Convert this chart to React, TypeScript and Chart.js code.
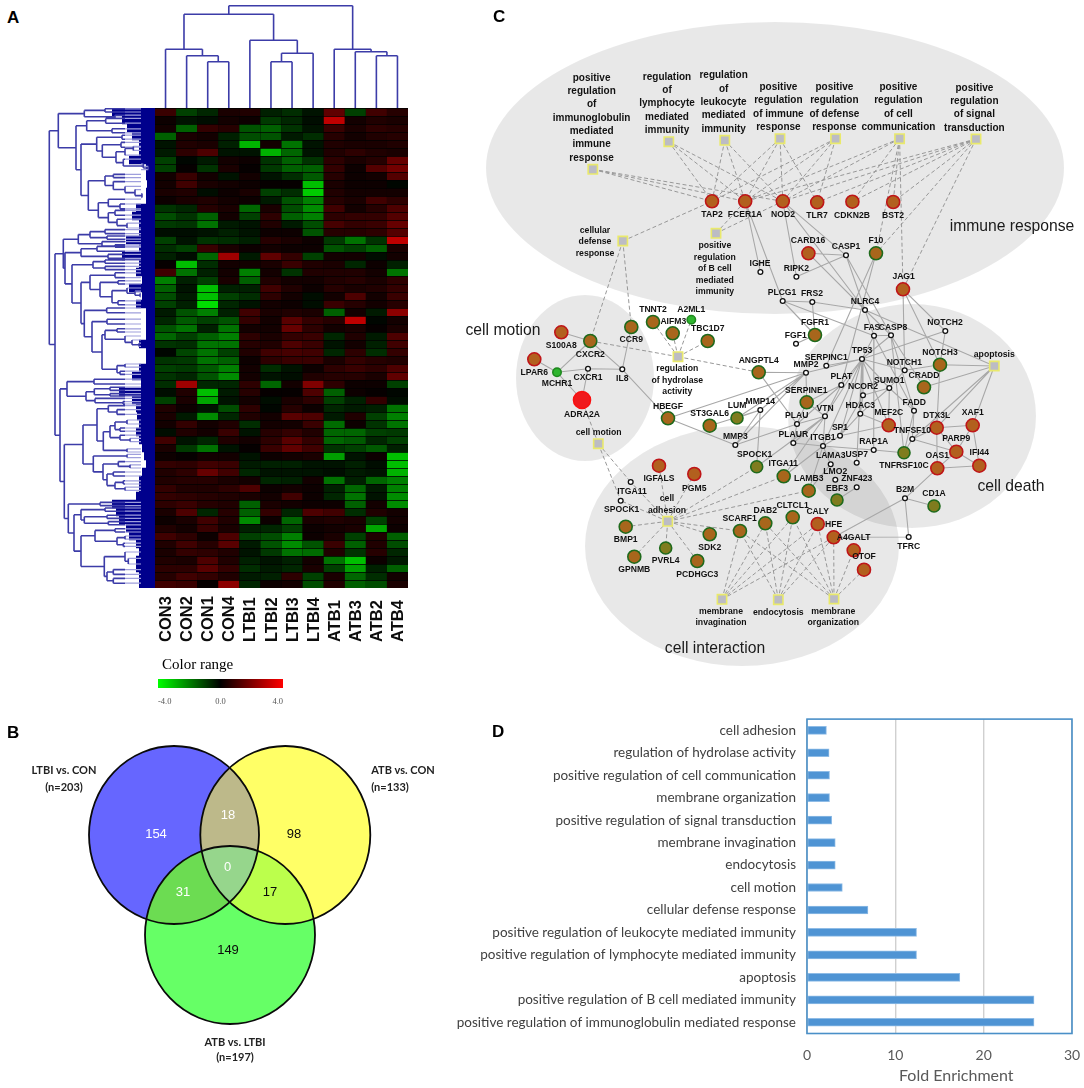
import React, { useEffect, useRef } from "react";
import { Chart, registerables } from "chart.js";

Chart.register(...registerables);

/* ---------- Panel A ---------- */
const samples = ["CON3", "CON2", "CON1", "CON4", "LTBI1", "LTBI2", "LTBI3", "LTBI4", "ATB1", "ATB3", "ATB2", "ATB4"];
const heatRows = [
  [.9, -1, -.6, .4, .5, -.5, -.7, -.3, 1.5, -1, 1, .6],
  [.2, -.3, -.2, .3, .2, -.9, -.6, -.2, 3, .3, .5, .4],
  [.3, -1.5, .8, .6, -1.3, -1.5, -.8, -.3, .9, .4, .7, .6],
  [-1.5, .4, .3, -.5, -1.2, -1.3, -.4, -.7, .6, .3, .5, .6],
  [-.3, .5, .4, -.5, -2.8, .3, -1.8, -.3, .5, .4, .4, .5],
  [-.4, .7, 1.2, -.3, -.3, -2.8, -1.6, -.3, .5, .7, .5, .4],
  [-1, -.1, -.4, .3, .2, -.8, -1.5, -.8, .7, .4, .6, 1.6],
  [-1, .1, -.8, .4, .1, -.9, -1.5, -1.5, .8, .2, 1.3, 1.8],
  [.3, .9, .3, -.3, .3, -.3, -.7, -1.4, .6, .2, .3, 1.3],
  [.3, 1, .4, .3, .2, .1, .1, -3, .4, .2, .2, -.1],
  [.4, .5, -.2, .2, .4, -1, -.7, -3.2, .5, .3, .3, .3],
  [.2, .4, .5, .3, .2, -.4, -1.3, -2, .6, .4, 1, .7],
  [-.8, -.6, .6, .4, -1.6, .4, -1.2, -2.2, 1, .3, .6, 1.2],
  [-1.2, -.8, -1.5, .3, -1, .7, -1.5, -2, .7, .8, .8, 1.3],
  [-.9, -.8, -1.8, -.4, -.3, .5, -.4, -1.2, 1.1, .8, .9, 1.6],
  [-.2, -.2, -.3, -.5, -.3, .2, .2, -1.3, .6, .6, .7, 1.3],
  [-1, -.3, -.8, -.7, -.5, .6, .4, .2, -.9, -1.8, -.8, 3],
  [-.7, -1, .9, .4, .2, .3, .2, .2, -1.3, -1, -1.5, .4],
  [-.5, -.2, -1.6, 2.5, -.4, 1.5, .8, -1, .3, .3, -.2, .3],
  [.1, -3, -.7, .3, .3, .4, .9, .5, .4, -.6, .2, -.5],
  [1, -1.8, -.5, .3, -2, .3, -.8, .5, .5, .5, .3, -1.8],
  [-2, -.5, -1, .4, -1.5, .5, .3, .3, .5, .6, .4, .7],
  [-1.5, -.3, -3, -.5, -.5, 1, .5, .2, .6, .4, .5, .8],
  [-1.2, -.4, -3, -1, -.7, .7, .3, -.2, .3, 1.2, .3, .9],
  [-1, -.5, -3.5, -.6, -.3, .3, .2, -.2, .9, .6, .3, .6],
  [-.4, -1.3, -2, -.5, 1, .4, .5, .4, -1.5, .3, -.4, 2.2],
  [-.6, -1.4, -1, -1.3, .8, .3, 1.4, .8, .6, 3, -.1, .3],
  [-1.3, -1.8, -.5, -1.8, .3, .3, 1.6, .7, .3, .4, .1, .4],
  [-1.6, -1, -1.5, -2, .7, .4, .8, .9, -.6, .5, -.4, 1.2],
  [-.8, -.7, -1.8, -1.8, .6, .5, 1.2, .9, -.3, .3, -.5, 1],
  [-.1, -1.1, -1.8, -1, .5, 1, 1.1, 1, -.6, .7, -.7, .8],
  [-.8, -.9, -1.8, -1.5, .2, .7, .9, .9, .4, .8, .6, .5],
  [-1, -.9, -1.4, -2, .3, -.7, -.3, .2, .7, .9, .7, 1.2],
  [-.8, -.6, -1.3, -2.2, .3, -.3, -.2, .5, .6, .6, .4, 1.5],
  [-.7, 2.5, -.6, -.6, .7, -1.6, .3, 2, .7, .2, .2, -1],
  [-.2, .5, -3, -.4, .6, .1, .1, 1.2, -1.5, .2, .1, -.1],
  [-1, .4, -2.6, -.3, .3, -.2, .4, .7, -1, -.5, .8, -.2],
  [.5, .2, -.3, -1.2, .7, -.1, .6, .2, -.6, -.4, -.5, -1.8],
  [.4, -.4, -2.2, -.6, .5, .3, 1.4, 1.2, -.4, .5, -1, -2],
  [.3, .8, .3, .5, -.7, .3, .3, .9, -1.7, .2, -.8, -1.8],
  [-.2, .5, .3, .9, -.3, .6, .8, .5, -1.6, -1.6, -1, -.9],
  [1, -.3, -.6, .5, .3, .7, 1.4, .8, -1.6, -1.4, -.6, -1],
  [.4, -.9, -1.8, -.3, .1, .9, 1.5, 1, -.8, -1, -1.4, -.5],
  [.2, .1, .3, .3, -.3, .2, .3, .4, -2.5, -.3, .2, -3],
  [.8, .7, 1, .9, -.4, -.5, -.5, -.3, -.3, -.5, -.2, -3],
  [.5, .7, 1.6, 1, -.6, -.3, -.3, -.3, -.2, -.4, -.3, -2.8],
  [.5, .6, .6, .4, .3, -.6, -.5, .3, -1.8, -.5, -1.6, -2],
  [.8, .5, .5, .7, 1.2, .2, .3, .2, -.5, -1.6, -.4, -2],
  [.8, .7, .6, .5, .4, .3, 1, .2, -.6, -1.8, -.3, -2.2],
  [.7, .9, .6, .5, -1.5, .4, .3, .2, .2, -1.5, .3, -2.2],
  [.4, 1.2, -.6, .6, -1.5, .8, -.6, 1.2, 1, -.7, .5, .3],
  [.2, .4, 1, .5, -2.2, .2, -1.6, .4, .5, .4, -1, .3],
  [.5, .3, .9, .4, -.5, -.6, -1, .2, .3, .4, -2.6, .2],
  [1, .7, .2, 1.2, -1, -1.2, -2, .2, .4, -1, .5, -1.5],
  [.5, 1, .6, 1.4, -.4, -1.3, -2.2, -1.3, .9, -1.5, .5, -1.2],
  [.4, .8, .7, .5, -.3, -.9, -1.8, -1.7, .5, -.8, .6, -.6],
  [.5, .4, 1.2, .5, -.5, -.3, -.5, .3, -1.8, -3, .2, -.4],
  [.7, .7, 1.4, .8, -.7, -.4, -.6, .4, -1, -2.5, -.5, -1.5],
  [.6, 1, .8, .5, -.4, -.5, .7, -1, .4, -1.6, -.7, .3],
  [1, .9, .1, 2.2, -.6, .2, .3, -1.2, .5, -1.5, -1.2, .4],
];
const topTree: any = [102.3, [93.7, [58.7, 0, [52.3, 1, [46.3, 2, 3]]], [67.7, 4, [54.7, [46.3, 5, 6], 7]]], [58.7, 8, [56.3, 9, [52.3, 10, 11]]]];
const brP: any = [58.3, [33, 3.4, 3.9], [52.7, [34, 4.3, 4.9], [39, [30, [21.7, 4.8, 5.3], 5.9], [31.7, 6.4, [11.7, 7, [6.7, 7.3, 7.7]]]]]];
const brS: any = [66.7, [50, [41.7, 8.3, 8.7], [41.7, 9.2, [30, 9.8, [20, 10.2, [13, 10.7, 11.2]]]]], [56.7, [46.7, 11.4, [35, 12, 12.6]], [46.7, [40, 12.8, 13.4], [38, 13.9, [28, 14.4, 15]]]]];
const brA: any = [96.7, [70.7, [50, .1, .5], [40, .9, 1.3]], [79, [68.3, [49.3, 1.3, 1.9], [43, 2.6, 3.1]], [74, brP, brS]]];
const brJ: any = [53, [50, [38, 27.6, 28], [30, 28.5, [23, 29, [16, 29.4, 29.8]]]], [38, [30, 32, 32.4], [35, 32.9, 33.3]]];
const brH: any = [70.7, [48.3, 25, 25.6], [63, [48, 26.4, 27], brJ]];
const brE: any = [65, [40, 20.6, 21.2], [55, [37, 21.6, 22], [43, [28, 22.5, [20, 22.9, [15, 23.2, 23.6]]], [37, 24.1, 24.6]]]];
const brC2: any = [90, [74, [58, 17.3, 17.9], [47, 18.3, 18.8]], [83, [62, [50, 19, 19.4], [50, 19.8, 20.2]], [74, brE, brH]]];
const brC1: any = [76.7, [65, [50, 15.2, 15.7], [48, 16, 16.4]], [53, 16.7, [40, 17.1, 17.4]]];
const brK: any = [88, [61, 33.9, 34.5], [69, [60.7, [45, 34.9, 35.3], [45, 35.7, 36]], [60, 36.3, [32, 36.7, 37]]]];
const brM: any = [58, [46.7, 37.2, [38, 37.7, 38.3]], [51.7, [45, [40, [28, 39, 39.5], [35, 40, 40.4]], [35, 40.9, [25, 41.3, 41.7]]], [28, 42.6, 43]]];
const brN: any = [61.7, [28, 43.3, 43.7], [52, [36.7, 44.2, [25, 44.6, 45]], [48, [41.7, 45.5, 46], [40, [31.7, 46.6, 47], [30, 47.4, 47.8]]]]];
const brL2: any = [86.7, [55, 49.3, 49.7], [81, [74, [50, 50, 50.4], [70.7, [48, 50.9, 51.3], [46.7, 51.7, 52.1]]], [74, [60, [40, 52.6, 53], [38, [30, 53.5, 53.9], [31.7, 54.4, 54.8]]], [50.7, [30, 55.5, [26.7, 56.3, 57]], [48, [41.7, 57.7, 58.3], [41.7, 58.8, 59.4]]]]]];
const leftTree: any = [105.7, brA, [100, [91.7, brC1, brC2], [95, brK, [90.7, [72, brM, brN], brL2]]]];
const navyDist = [43, 33, 28, 23, 16, 16, 26, 9, 9, 8, 9, 9, 19, 23, 16, 16, 29, 16, 33, 16, 19, 13, 26, 13, 19, 9, 9, 9, 9, 16, 9, 9, 16, 23, 14, 36, 23, 19, 18, 16, 19, 16, 13, 11, 9, 13, 16, 16, 19, 43, 39, 36, 29, 26, 19, 16, 19, 19, 16, 16];
const legendTicks = [-4, 0, 4];

/* ---------- Panel B ---------- */
const vennCentres = [[174, 835], [285.3, 835], [230, 935]];
const vennRadii = [85, 89];
const vennTexts: any[] = [
  ["LTBI vs. CON", 64, 770, 0], ["(n=203)", 64, 787, 0], ["ATB vs. CON", 403, 770, 0], ["(n=133)", 390, 787, 0],
  ["ATB vs. LTBI", 235, 1042, 0], ["(n=197)", 235, 1057, 0],
  ["154", 156, 834, 1], ["18", 228, 815, 1], ["98", 294, 834, 2], ["0", 227.7, 867.7, 1], ["31", 183, 892, 1], ["17", 270, 892, 2], ["149", 228, 950, 2],
];

/* ---------- Panel C ---------- */
const regions = [[775, 168, 289, 146], [585, 378, 69, 83], [912, 416, 124, 112], [742, 546, 157, 120]];
const regionTexts: any[] = [["immune response", 1012, 227], ["cell motion", 503, 331], ["cell death", 1011, 487], ["cell interaction", 715, 649]];
// id, x, y, kind, label x, label y, unique key
const genes: any[] = [
  ["TAP2", 712, 201.3, "r", 712, 215], ["FCER1A", 745.2, 201.3, "r", 745, 215], ["NOD2", 782.8, 201.3, "r", 783, 215],
  ["TLR7", 817.2, 202.3, "r", 817, 216], ["CDKN2B", 852.4, 201.7, "r", 852, 215.5], ["BST2", 893.2, 202, "r", 893, 216],
  ["CARD16", 808.4, 253.3, "r", 808, 240.7], ["F10", 876, 253.3, "g", 876, 241], ["JAG1", 903, 289.3, "r", 903.6, 276.7],
  ["CASP1", 846, 255.3, "s", 846, 247], ["IGHE", 760.4, 272, "s", 760, 263.7], ["RIPK2", 796.4, 276.7, "s", 796.4, 268.3],
  ["CCR9", 631.3, 327, "g", 631.3, 340], ["TNNT2", 653, 322, "g", 653, 310], ["AIFM3", 672.7, 333.3, "g", 673.3, 321.3],
  ["A2ML1", 691.3, 319.7, "G", 691.3, 309.3], ["TBC1D7", 707.7, 341, "g", 707.7, 329], ["S100A8", 561.3, 332.3, "r", 561.3, 345.7],
  ["CXCR2", 590.3, 341, "g", 590.3, 354.7], ["LPAR6", 534.3, 359.3, "r", 534.3, 372.7], ["MCHR1", 557, 372.3, "G", 557, 384],
  ["CXCR1", 588, 368.7, "s", 588, 377.7], ["IL8", 622.3, 369.3, "s", 622.3, 378.3], ["ADRA2A", 582, 400, "R", 582, 415],
  ["ANGPTL4", 758.7, 372.3, "g", 758.7, 360.3], ["HBEGF", 668, 418.3, "g", 668, 406.3], ["ST3GAL6", 709.7, 425.7, "g", 709.7, 413.7],
  ["LUM", 737, 418, "o", 737, 406], ["MMP14", 760.3, 410, "s", 760.3, 401.7], ["MMP3", 735.3, 445, "s", 735.3, 437],
  ["SPOCK1", 756.7, 466.7, "o", 754.7, 454.7], ["IGFALS", 659, 465.7, "r", 659, 479], ["PGM5", 694.3, 474, "r", 694.3, 488.3],
  ["ITGA11", 630.7, 482, "s", 632, 491.3, "ITGA11s"], ["SPOCK1", 620.7, 500.7, "s", 621.7, 509.7, "SPOCK1s"],
  ["PLCG1", 782.7, 301, "s", 782, 292.7], ["FRS2", 812.3, 302, "s", 812, 293.7], ["NLRC4", 865, 310, "s", 865, 301.7],
  ["FGFR1", 815, 335, "g", 815, 322.7], ["FGF1", 796, 343.7, "s", 795.7, 335.7], ["FAS", 874, 335.7, "s", 872, 327.7],
  ["CASP8", 891, 335.3, "s", 893, 327.7], ["NOTCH2", 945.3, 331, "s", 945, 322.7], ["NOTCH3", 940, 364.7, "g", 940, 352.3],
  ["TP53", 862, 359, "s", 862, 351], ["SERPINC1", 826.3, 365.7, "s", 826.3, 357.3], ["MMP2", 806, 372.7, "s", 806, 364.7],
  ["NOTCH1", 904.7, 370.3, "s", 904.3, 362.3], ["CRADD", 924, 387.3, "g", 924, 375.3], ["PLAT", 841.3, 385, "s", 841.3, 377],
  ["SUMO1", 889.3, 388, "s", 889.3, 380.3], ["NCOR2", 863, 395.3, "s", 863, 386.7], ["SERPINE1", 806.7, 402.3, "g", 806.3, 390.3],
  ["FADD", 914, 410.7, "s", 914.3, 402.7], ["HDAC3", 860.3, 413.7, "s", 860.3, 405.7], ["VTN", 825, 416.3, "s", 825, 408.3],
  ["PLAU", 797, 424, "s", 796.7, 416], ["MEF2C", 888.7, 425.3, "r", 888.7, 412.7], ["DTX3L", 936.7, 427.7, "r", 936.7, 415.3],
  ["XAF1", 972.7, 425.3, "r", 972.7, 412.7], ["SP1", 840, 435.7, "s", 840, 427.3], ["TNFSF10", 912.3, 439, "s", 912.3, 430.3],
  ["PLAUR", 793.3, 443, "s", 793.3, 435], ["ITGB1", 823, 446, "s", 823, 438], ["RAP1A", 873.7, 450, "s", 873.7, 441.3],
  ["PARP9", 956.3, 451.7, "r", 956.3, 439], ["TNFRSF10C", 904, 452.7, "o", 904, 465.7], ["USP7", 856.7, 462.7, "s", 856.7, 454.3],
  ["LAMA3", 830.7, 464.3, "s", 830.7, 456], ["OAS1", 937.3, 468.3, "r", 937.3, 455.3], ["IFI44", 979.3, 465.7, "r", 979.3, 452.7],
  ["ITGA11", 783.7, 476.3, "g", 783.3, 464], ["LMO2", 835.3, 479.7, "s", 835.3, 471.3], ["ZNF423", 856.7, 487.3, "s", 856.7, 479],
  ["LAMB3", 808.7, 490.7, "g", 808.7, 478.7], ["EBF3", 837, 500, "o", 837, 489], ["B2M", 905, 498.3, "s", 905, 490],
  ["CD1A", 934, 506, "o", 934, 493.7], ["BMP1", 625.7, 526.7, "g", 625.7, 540], ["PVRL4", 665.7, 548, "o", 665.7, 560.7],
  ["GPNMB", 634.3, 556.7, "g", 634.3, 570], ["SDK2", 709.7, 534.3, "g", 709.7, 547.3], ["PCDHGC3", 697.3, 561, "g", 697.3, 574.3],
  ["SCARF1", 740, 531, "g", 739.7, 518.7], ["DAB2", 765.3, 523.3, "g", 765.3, 511], ["CLTCL1", 792.7, 517.3, "g", 792.7, 505.3],
  ["CALY", 817.7, 524, "r", 817.7, 511.3], ["HFE", 833.7, 537.3, "r", 833.7, 524.7], ["A4GALT", 853.7, 550.3, "r", 853.7, 537.7],
  ["OTOF", 864, 569.7, "r", 864, 557], ["TFRC", 908.7, 537, "s", 908.7, 546.3],
];
// id, x, y, lines, label x, first line y, line step, large font?
const terms: any[] = [
  ["immuno", 592.8, 169.3, ["positive", "regulation", "of", "immunoglobulin", "mediated", "immune", "response"], 591.6, 78, 13.3, 1],
  ["lympho", 668.8, 141.7, ["regulation", "of", "lymphocyte", "mediated", "immunity"], 667, 77, 13.3, 1],
  ["leuko", 724.8, 140.3, ["regulation", "of", "leukocyte", "mediated", "immunity"], 723.6, 75.7, 13.3, 1],
  ["immune", 780, 138.7, ["positive", "regulation", "of immune", "response"], 778.4, 87.3, 13.3, 1],
  ["defense", 835.6, 138.7, ["positive", "regulation", "of defense", "response"], 834.4, 87.3, 13.3, 1],
  ["comm", 899.6, 138.7, ["positive", "regulation", "of cell", "communication"], 898.4, 87.3, 13.3, 1],
  ["signal", 976, 139, ["positive", "regulation", "of signal", "transduction"], 974.4, 88, 13.3, 1],
  ["cellular", 622.8, 241, ["cellular", "defense", "response"], 595, 230.3, 11.7, 0],
  ["bcell", 716, 233.3, ["positive", "regulation", "of B cell", "mediated", "immunity"], 714.8, 245.7, 11.6, 0],
  ["hydro", 678, 356.7, ["regulation", "of hydrolase", "activity"], 677.3, 369, 11.5, 0],
  ["motion", 598.3, 443.7, ["cell motion"], 598.7, 432.3, 0, 0],
  ["apoptosis", 994.3, 366, ["apoptosis"], 994.3, 355, 0, 0],
  ["adhesion", 667.7, 521.3, ["cell", "adhesion"], 667, 499, 11.7, 0],
  ["invag", 722, 599.3, ["membrane", "invagination"], 721, 611.7, 11.4, 0],
  ["endo", 778.3, 599.7, ["endocytosis"], 778.3, 612.3, 0, 0],
  ["org", 834, 599, ["membrane", "organization"], 833.3, 611.3, 11.4, 0],
];
const dashedEdges: string[][] = [
  ["immuno", "TAP2"], ["immuno", "FCER1A"], ["immuno", "NOD2"], ["lympho", "TAP2"], ["lympho", "FCER1A"], ["lympho", "NOD2"],
  ["leuko", "TAP2"], ["leuko", "FCER1A"], ["leuko", "NOD2"], ["immune", "TAP2"], ["immune", "FCER1A"], ["immune", "NOD2"], ["immune", "TLR7"],
  ["defense", "FCER1A"], ["defense", "NOD2"], ["defense", "TLR7"], ["defense", "TAP2"], ["comm", "FCER1A"], ["comm", "NOD2"], ["comm", "CDKN2B"],
  ["comm", "BST2"], ["comm", "JAG1"], ["comm", "F10"], ["signal", "FCER1A"], ["signal", "NOD2"], ["signal", "CDKN2B"], ["signal", "BST2"],
  ["signal", "JAG1"], ["signal", "F10"], ["signal", "TLR7"], ["cellular", "TAP2"], ["cellular", "CXCR2"], ["cellular", "CCR9"], ["bcell", "NOD2"], ["bcell", "FCER1A"],
  ["hydro", "TNNT2"], ["hydro", "AIFM3"], ["hydro", "A2ML1"], ["hydro", "TBC1D7"], ["hydro", "CXCR2"], ["hydro", "ANGPTL4"],
  ["motion", "ADRA2A"], ["motion", "ITGA11s"], ["motion", "SPOCK1s"],
  ["adhesion", "ITGA11s"], ["adhesion", "SPOCK1s"], ["adhesion", "IGFALS"], ["adhesion", "PGM5"], ["adhesion", "SPOCK1"], ["adhesion", "ITGA11"],
  ["adhesion", "LAMB3"], ["adhesion", "BMP1"], ["adhesion", "GPNMB"], ["adhesion", "PVRL4"], ["adhesion", "PCDHGC3"], ["adhesion", "SDK2"], ["adhesion", "SCARF1"],
  ["invag", "SCARF1"], ["invag", "DAB2"], ["invag", "CLTCL1"], ["invag", "CALY"], ["invag", "HFE"],
  ["endo", "SCARF1"], ["endo", "DAB2"], ["endo", "CLTCL1"], ["endo", "CALY"], ["endo", "HFE"],
  ["org", "SCARF1"], ["org", "DAB2"], ["org", "CLTCL1"], ["org", "CALY"], ["org", "HFE"], ["org", "A4GALT"], ["org", "OTOF"],
];
const solidEdges: string[][] = [
  ["FCER1A", "IGHE"], ["FCER1A", "PLCG1"], ["NOD2", "RIPK2"], ["NOD2", "CASP1"], ["NOD2", "NLRC4"], ["RIPK2", "CASP1"], ["CARD16", "CASP1"], ["CARD16", "NLRC4"],
  ["CASP1", "NLRC4"], ["CASP1", "CASP8"], ["F10", "SERPINC1"], ["F10", "PLAT"], ["PLCG1", "FRS2"], ["PLCG1", "FGFR1"], ["FRS2", "FGFR1"], ["FGFR1", "FGF1"], ["PLCG1", "FAS"],
  ["FRS2", "NLRC4"], ["NLRC4", "CASP8"], ["NLRC4", "FAS"], ["NLRC4", "apoptosis"], ["JAG1", "NOTCH1"], ["JAG1", "NOTCH2"], ["JAG1", "NOTCH3"], ["NOTCH2", "NOTCH3"], ["TP53", "NOTCH2"],
  ["FAS", "CASP8"], ["FAS", "TP53"], ["FAS", "FADD"], ["FAS", "RAP1A"], ["CASP8", "FADD"], ["CASP8", "CRADD"], ["CASP8", "TNFRSF10C"], ["CASP8", "TP53"], ["NOTCH1", "NOTCH3"], ["NOTCH1", "TP53"], ["NOTCH1", "SUMO1"],
  ["NOTCH3", "apoptosis"], ["CRADD", "apoptosis"], ["DTX3L", "apoptosis"], ["XAF1", "apoptosis"], ["TNFSF10", "apoptosis"], ["NOTCH3", "DTX3L"],
  ["TP53", "SERPINC1"], ["TP53", "MMP2"], ["TP53", "PLAT"], ["TP53", "NCOR2"], ["TP53", "SUMO1"], ["TP53", "MEF2C"], ["TP53", "HDAC3"], ["TP53", "SP1"], ["TP53", "VTN"], ["TP53", "USP7"], ["TP53", "ITGB1"],
  ["SUMO1", "NCOR2"], ["SUMO1", "HDAC3"], ["SUMO1", "FADD"], ["MEF2C", "HDAC3"], ["MEF2C", "SP1"], ["MEF2C", "SUMO1"], ["NCOR2", "HDAC3"], ["NCOR2", "SP1"], ["HDAC3", "SP1"],
  ["PLAT", "VTN"], ["PLAT", "PLAU"], ["PLAT", "SERPINE1"], ["SERPINE1", "VTN"], ["SERPINE1", "PLAU"], ["SERPINE1", "MMP2"], ["PLAU", "PLAUR"], ["PLAU", "VTN"], ["VTN", "ITGB1"], ["VTN", "PLAUR"],
  ["ITGB1", "PLAUR"], ["ITGB1", "SP1"], ["ITGB1", "RAP1A"], ["RAP1A", "TNFRSF10C"], ["ITGB1", "LAMA3"], ["ITGA11", "ITGB1"], ["LAMB3", "ITGB1"], ["LAMB3", "LAMA3"], ["EBF3", "ZNF423"], ["ITGA11", "VTN"], ["SPOCK1", "VTN"],
  ["TNFSF10", "DTX3L"], ["TNFSF10", "TNFRSF10C"], ["TNFSF10", "PARP9"], ["TNFSF10", "FADD"], ["FADD", "TNFRSF10C"], ["DTX3L", "XAF1"], ["DTX3L", "PARP9"], ["DTX3L", "OAS1"], ["XAF1", "PARP9"], ["XAF1", "IFI44"], ["PARP9", "IFI44"], ["PARP9", "OAS1"], ["OAS1", "IFI44"], ["OAS1", "B2M"],
  ["B2M", "CD1A"], ["B2M", "TFRC"], ["B2M", "HFE"], ["HFE", "TFRC"], ["HBEGF", "MMP2"], ["HBEGF", "MMP3"], ["HBEGF", "IL8"], ["ST3GAL6", "MMP14"], ["LUM", "MMP14"], ["LUM", "MMP2"], ["MMP14", "MMP3"], ["MMP14", "SPOCK1"], ["MMP14", "MMP2"], ["MMP3", "MMP2"], ["MMP3", "PLAU"], ["ANGPTL4", "PLAU"], ["ANGPTL4", "MMP2"],
  ["IL8", "CXCR1"], ["IL8", "CXCR2"], ["IL8", "CCR9"], ["CXCR1", "MCHR1"], ["CXCR1", "ADRA2A"], ["MCHR1", "LPAR6"], ["MCHR1", "CXCR2"], ["MCHR1", "ADRA2A"], ["S100A8", "CXCR2"],
];
const kindFill: any = { r: "#b2601e", g: "#a8661c", o: "#7f7c1e", G: "#2fb52f", R: "#f0191c", s: "#ffffff" };
const kindBorder: any = { r: "#bf1518", g: "#1f6a1c", o: "#1f6a1c", G: "#1f8a1f", R: "#f81010", s: "#111111" };
const kindRadius: any = { r: 6.5, g: 6.5, o: 6, G: 4.2, R: 8.5, s: 2.4 };

/* ---------- Panel D ---------- */
const goTerms = ["cell adhesion", "regulation of hydrolase activity", "positive regulation of cell communication", "membrane organization", "positive regulation of signal transduction", "membrane invagination", "endocytosis", "cell motion", "cellular defense response", "positive regulation of leukocyte mediated immunity", "positive regulation of lymphocyte mediated immunity", "apoptosis", "positive regulation of B cell mediated immunity", "positive regulation of immunoglobulin mediated response"];
const foldEnrichment = [2.2, 2.5, 2.55, 2.55, 2.8, 3.2, 3.2, 4, 6.9, 12.4, 12.4, 17.3, 25.7, 25.7];

/* ---------- helpers ---------- */
const SANS = '"Liberation Sans", Arial, sans-serif';
const CAL = 'Lato, "Noto Sans", sans-serif';
const heatColor = (v: number) => {
  const k = Math.round(Math.min(Math.abs(v) / 4, 1) * 255);
  return v >= 0 ? `rgb(${k},0,0)` : `rgb(0,${k},0)`;
};
const gap = { x: NaN, y: NaN };
const seg = (out: any[], x1: number, y1: number, x2: number, y2: number) => out.push({ x: x1, y: y1 }, { x: x2, y: y2 }, gap);

function walkTree(node: any, horizontal: boolean, out: any[], leaves: any[], leafEnd: number): number {
  if (typeof node === "number") return node;
  const [h, a, b] = node;
  const pa = walkTree(a, horizontal, out, leaves, leafEnd);
  const pb = walkTree(b, horizontal, out, leaves, leafEnd);
  const put = (target: any[], h1: number, p1: number, h2: number, p2: number) =>
    horizontal ? seg(target, h1, p1, h2, p2) : seg(target, p1, h1, p2, h2);
  put(out, h, pa, h, pb);
  for (const [child, p] of [[a, pa], [b, pb]]) {
    if (typeof child === "number") {
      const knee = horizontal ? Math.min(h, 30) : 0;
      put(out, h, p, knee, p);
      if (horizontal) put(leaves, knee, p, leafEnd, p);
    } else put(out, h, p, child[0], p);
  }
  return (pa + pb) / 2;
}

const textPlugin = (id: string, items: any[]) => ({
  id,
  afterDraw(chart: any) {
    const { ctx, scales } = chart;
    ctx.save();
    ctx.textBaseline = "middle";
    for (const it of items) {
      ctx.font = it.font;
      ctx.fillStyle = it.color;
      ctx.textAlign = it.align || "center";
      ctx.fillText(it.t, scales.x.getPixelForValue(it.x), scales.y.getPixelForValue(it.y));
    }
    ctx.restore();
  },
});
const plainScales = (x0: number, x1: number, y0: number, y1: number, revX = false): any => ({
  x: { type: "linear", min: x0, max: x1, display: false, reverse: revX },
  y: { type: "linear", min: y0, max: y1, display: false, reverse: true },
});
const base: any = {
  responsive: false,
  animation: false,
  devicePixelRatio: 1,
  layout: { padding: 0, autoPadding: false },
  events: [],
};
const quiet = { legend: { display: false }, tooltip: { enabled: false }, title: { display: false } };
const lineDs = (data: any[], color: string, width: number, extra: any = {}) => ({
  type: "scatter", data, showLine: true, borderColor: color, borderWidth: width, pointRadius: 0, clip: false, borderCapStyle: "butt", ...extra,
});

const layouts: any = {
  heat: [155, 108, 258, 540],
  top: [155, 0, 253, 108],
  left: [0, 108, 155, 480],
  legend: [150, 655, 134, 55],
  venn: [0, 710, 440, 378],
  net: [450, 0, 634, 690],
  bars: [440, 700, 644, 388],
};

export default function App() {
  const refs = useRef<any>({});
  useEffect(() => {
    const charts: any[] = [];
    const c = (k: string) => refs.current[k];

    /* heat map */
    charts.push(new Chart(c("heat"), {
      type: "bar",
      data: {
        labels: samples,
        datasets: heatRows.map((row, i) => ({
          label: "row" + i,
          data: row.map(() => 1),
          backgroundColor: row.map(heatColor),
          borderColor: "#000000",
          borderWidth: { top: 1.2, bottom: 0, left: 0, right: 0 },
          borderSkipped: false,
          barPercentage: 1,
          categoryPercentage: 1,
          stack: "s",
        })),
      },
      options: {
        ...base,
        layout: { padding: { right: 5, bottom: 60 }, autoPadding: false },
        plugins: quiet,
        scales: {
          x: { stacked: true, display: false },
          y: { stacked: true, display: false, min: 0, max: heatRows.length, reverse: true },
        },
      },
      plugins: [{
        id: "heatBack",
        beforeDatasetsDraw(chart: any) {
          const { ctx, chartArea: a } = chart;
          ctx.fillStyle = "#000";
          ctx.fillRect(a.left, a.top, a.width, a.height);
        },
        afterDraw(chart: any) {
          const { ctx, scales } = chart;
          ctx.save();
          ctx.fillStyle = "#0d0d0d";
          ctx.font = `bold 16.5px ${SANS}`;
          ctx.textAlign = "left";
          ctx.textBaseline = "middle";
          samples.forEach((s, i) => {
            ctx.save();
            ctx.translate(scales.x.getPixelForValue(i) + 1, chart.chartArea.bottom + 54);
            ctx.rotate(-Math.PI / 2);
            ctx.fillText(s, 0, 0);
            ctx.restore();
          });
          ctx.restore();
        },
      }],
    } as any));

    /* dendrograms */
    const topSegs: any[] = [];
    walkTree(topTree, false, topSegs, topSegs, 0);
    charts.push(new Chart(c("top"), {
      type: "scatter",
      data: { datasets: [lineDs(topSegs, "#3c3ca8", 1.6)] as any },
      options: { ...base, plugins: quiet, scales: { x: { type: "linear", min: -.5, max: 11.5, display: false }, y: { type: "linear", min: 0, max: 108, display: false } } },
    } as any));

    const leftSegs: any[] = [];
    const leftLeaves: any[] = [];
    const navy: any[] = [];
    walkTree(leftTree, true, leftSegs, leftLeaves, 14);
    navyDist.forEach((d, i) => seg(navy, d, i + .5, 0, i + .5));
    charts.push(new Chart(c("left"), {
      type: "scatter",
      data: {
        datasets: [
          lineDs(leftSegs, "#3c3ca8", 1.6, { order: 1 }),
          lineDs(leftLeaves, "#9f9fdc", 1.2, { order: 2 }),
          lineDs(navy, "#00008c", 8.4, { order: 3 }),
        ] as any,
      },
      options: { ...base, plugins: quiet, scales: plainScales(0, 155, 0, heatRows.length, true) },
    } as any));

    /* colour legend */
    charts.push(new Chart(c("legend"), {
      type: "bar",
      data: {
        labels: ["Color range"],
        datasets: [{
          data: [[-4, 4]],
          barPercentage: 1,
          categoryPercentage: 1,
          borderWidth: 0,
          borderSkipped: false,
          backgroundColor: (ctx: any) => {
            const a = ctx.chart.chartArea;
            if (!a) return "#000";
            const g = ctx.chart.ctx.createLinearGradient(a.left, 0, a.right, 0);
            g.addColorStop(0, "#00ff00");
            g.addColorStop(.5, "#000000");
            g.addColorStop(1, "#ff0000");
            return g;
          },
        }],
      } as any,
      options: {
        ...base,
        indexAxis: "y",
        layout: { padding: { left: 8, right: 0, top: 24, bottom: 0 }, autoPadding: false },
        plugins: quiet,
        scales: {
          y: { display: false },
          x: {
            type: "linear", min: -4, max: 4,
            grid: { display: false }, border: { display: false },
            afterBuildTicks: (s: any) => { s.ticks = legendTicks.map((value) => ({ value })); },
            afterFit: (s: any) => { s.height = 22; },
            ticks: { align: "inner", maxRotation: 0, padding: 1, color: "#555", font: { family: '"Liberation Serif", serif', size: 8.5 }, callback: (v: any) => Number(v).toFixed(1) },
          },
        },
      },
      plugins: [{
        id: "legendTitle",
        afterDraw(chart: any) {
          const { ctx, chartArea: a } = chart;
          ctx.save();
          ctx.fillStyle = "#000";
          ctx.font = '15px "Liberation Serif", serif';
          ctx.textBaseline = "middle";
          ctx.fillText("Color range", a.left + 4, a.top - 14);
          ctx.restore();
        },
      }],
    } as any));

    /* venn */
    const [rx, ry] = vennRadii;
    const vennLayer = (chart: any) => {
      const { ctx, scales } = chart;
      const px = (v: number) => scales.x.getPixelForValue(v);
      const py = (v: number) => scales.y.getPixelForValue(v);
      const path = (i: number) => {
        ctx.beginPath();
        ctx.ellipse(px(vennCentres[i][0]), py(vennCentres[i][1]), rx, ry, 0, 0, Math.PI * 2);
      };
      const fillOver = (idx: number[], color: string) => {
        ctx.save();
        idx.slice(0, -1).forEach((i) => { path(i); ctx.clip(); });
        path(idx[idx.length - 1]);
        ctx.fillStyle = color;
        ctx.fill();
        ctx.restore();
      };
      fillOver([0], "#6666ff");
      fillOver([1], "#ffff66");
      fillOver([2], "#66ff66");
      fillOver([0, 1], "#bdb98a");
      fillOver([0, 2], "#6cdc52");
      fillOver([1, 2], "#bcff4c");
      fillOver([0, 1, 2], "#96d68c");
      ctx.strokeStyle = "#0a0a0a";
      ctx.lineWidth = 1.8;
      [0, 1, 2].forEach((i) => { path(i); ctx.stroke(); });
    };
    const vennItems = vennTexts.map(([t, x, y, k]) => ({
      t, x, y,
      font: k === 0 ? `bold 11px ${CAL}` : `13px ${SANS}`,
      color: k === 1 ? "#ffffff" : k === 2 ? "#0a0a0a" : "#222",
    }));
    charts.push(new Chart(c("venn"), {
      type: "scatter",
      data: { datasets: [{ data: vennCentres.map(([x, y]) => ({ x, y })), pointRadius: 0 }] },
      options: { ...base, plugins: quiet, scales: plainScales(0, 440, 710, 1088) },
      plugins: [{ id: "vennLayer", beforeDatasetsDraw: vennLayer }, textPlugin("vennText", vennItems)],
    } as any));

    /* network */
    const pos: any = {};
    genes.forEach((g) => { pos[g[6] || g[0]] = [g[1], g[2]]; });
    terms.forEach((t) => { pos[t[0]] = [t[1], t[2]]; });
    const edgePts = (list: string[][]) => {
      const out: any[] = [];
      list.forEach(([a, b]) => { if (pos[a] && pos[b]) seg(out, pos[a][0], pos[a][1], pos[b][0], pos[b][1]); });
      return out;
    };
    const netTexts: any[] = [];
    genes.forEach((g) => netTexts.push({ t: g[0], x: g[4], y: g[5], font: `bold 8.6px ${SANS}`, color: "#111" }));
    terms.forEach((t) => t[3].forEach((line: string, i: number) => netTexts.push({
      t: line, x: t[4], y: t[5] + i * t[6], font: `bold ${t[7] ? 10 : 8.7}px ${SANS}`, color: "#111",
    })));
    regionTexts.forEach(([t, x, y]) => netTexts.push({ t, x, y, font: `15.7px ${SANS}`, color: "#1a1a1a" }));
    charts.push(new Chart(c("net"), {
      type: "scatter",
      data: {
        datasets: [
          {
            order: 1, clip: false,
            data: genes.map((g) => ({ x: g[1], y: g[2] })),
            pointRadius: genes.map((g) => kindRadius[g[3]]),
            pointBackgroundColor: genes.map((g) => kindFill[g[3]]),
            pointBorderColor: genes.map((g) => kindBorder[g[3]]),
            pointBorderWidth: genes.map((g) => (g[3] === "s" ? 1.3 : 1.6)),
          },
          {
            order: 1, clip: false,
            data: terms.map((t) => ({ x: t[1], y: t[2] })),
            pointStyle: "rect", pointRadius: 6.6,
            pointBackgroundColor: "#bcbcc4", pointBorderColor: "#e9e96c", pointBorderWidth: 1.6,
          },
          lineDs(edgePts(solidEdges), "#a8a8a8", 1.1, { order: 3 }),
          lineDs(edgePts(dashedEdges), "#979797", 1, { order: 2, borderDash: [4, 2.5] }),
        ] as any,
      },
      options: { ...base, plugins: quiet, scales: plainScales(450, 1084, 0, 690) },
      plugins: [{
        id: "regions",
        beforeDatasetsDraw(chart: any) {
          const { ctx, scales } = chart;
          ctx.save();
          ctx.fillStyle = "rgba(0,0,0,0.09)";
          regions.forEach(([x, y, a, b]) => {
            ctx.beginPath();
            ctx.ellipse(scales.x.getPixelForValue(x), scales.y.getPixelForValue(y), a, b, 0, 0, Math.PI * 2);
            ctx.fill();
          });
          ctx.restore();
        },
      }, textPlugin("netText", netTexts)],
    } as any));

    /* bars */
    charts.push(new Chart(c("bars"), {
      type: "bar",
      data: {
        labels: goTerms,
        datasets: [{ data: foldEnrichment, backgroundColor: "#4f94d4", borderColor: "#8fbce6", borderWidth: 1, barThickness: 8, borderSkipped: false }],
      },
      options: {
        ...base,
        indexAxis: "y",
        layout: { padding: { top: 18.5, right: 12, bottom: 0, left: 0 }, autoPadding: false },
        plugins: quiet,
        scales: {
          x: {
            min: 0, max: 30,
            border: { display: false },
            grid: { color: "#d0d0d0", lineWidth: 1.4, drawTicks: false },
            ticks: { stepSize: 10, padding: 14, color: "#595959", font: { family: CAL, size: 14 }, maxRotation: 0 },
            afterFit: (s: any) => { s.height = 54.5; s.paddingRight = 0; s.paddingLeft = 0; },
          },
          y: {
            grid: { display: false, drawTicks: false }, border: { display: false },
            ticks: { autoSkip: false, padding: 11, color: "#404040", font: { family: CAL, size: 13.5 } },
            afterFit: (s: any) => { s.width = 367; },
          },
        },
      },
      plugins: [{
        id: "barBox",
        afterDraw(chart: any) {
          const { ctx, chartArea: a, scales } = chart;
          ctx.save();
          ctx.strokeStyle = "#4a90c8";
          ctx.lineWidth = 1.6;
          ctx.strokeRect(a.left, a.top, a.width, a.height);
          ctx.fillStyle = "#595959";
          ctx.font = `16px ${CAL}`;
          ctx.textAlign = "center";
          ctx.textBaseline = "middle";
          ctx.fillText("Fold Enrichment", scales.x.getPixelForValue(16.9), a.bottom + 42);
          ctx.restore();
        },
      }],
    } as any));

    return () => charts.forEach((ch) => ch.destroy());
  }, []);

  const letter = (t: string, left: number, top: number) => (
    <div key={t} style={{ position: "absolute", left, top, font: `bold 17px ${SANS}`, lineHeight: "18px", color: "#000" }}>{t}</div>
  );
  return (
    <div style={{ position: "absolute", left: 0, top: 0, width: 1084, height: 1088, background: "#fff", overflow: "hidden" }}>
      {Object.keys(layouts).map((k) => {
        const [l, t, w, h] = layouts[k];
        return <canvas key={k} ref={(el) => { refs.current[k] = el; }} width={w} height={h} style={{ position: "absolute", left: l, top: t, width: w, height: h }} />;
      })}
      {letter("A", 7, 9)}
      {letter("B", 7, 724)}
      {letter("C", 493, 8)}
      {letter("D", 492, 723)}
    </div>
  );
}
